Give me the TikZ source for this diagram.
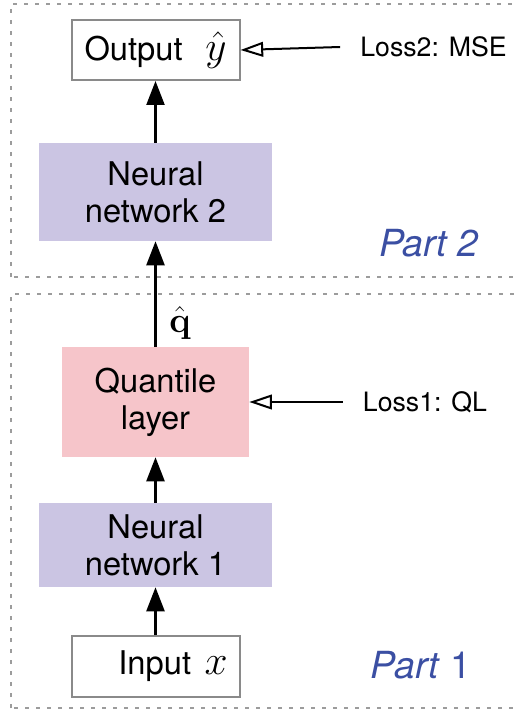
\RequirePackage{fix-cm}
\documentclass[tikz,border=0pt]{standalone}
\usepackage[no-math]{fontspec}
\setmainfont{TeX Gyre Heros}
\usetikzlibrary{arrows.meta}
\definecolor{lav}{HTML}{CBC5E3}
\definecolor{pinkq}{HTML}{F6C5CA}
\definecolor{partblue}{HTML}{3B4FA3}
\definecolor{bordergray}{HTML}{8A8A8A}
\definecolor{dashgray}{HTML}{9C9C9C}
\newcommand{\bigmath}[1]{{\fontsize{31}{31}\selectfont$#1$}}
\begin{document}
\begin{tikzpicture}[x=0.75pt,y=-0.75pt,
  mainfont/.style={font=\fontsize{24.5}{27.75}\selectfont},
  whitebox/.style={draw=bordergray,line width=1.5pt,fill=white,mainfont,align=center},
  nnbox/.style={fill=lav,mainfont,align=center,minimum width=174.75pt},
  qbox/.style={fill=pinkq,mainfont,align=center},
  losstext/.style={font=\fontsize{20}{23}\selectfont,inner xsep=15pt,anchor=center},
  parttext/.style={font=\fontsize{28}{32}\selectfont,text=partblue},
  arr/.style={line width=1.75pt,-{Triangle[width=13.5pt,length=18pt]}},
  oarr/.style={line width=1.5pt,-{Triangle[open,width=11pt,length=17pt,line width=1.5pt]}},
  border/.style={draw=dashgray,line width=1.5pt,dash pattern=on 3pt off 5.25pt}
]
\useasboundingbox (0,0) rectangle (518,713);
% dashed part borders
\draw[border] (11,277) -- (11,4) -- (518,4);
\draw[border] (14,277) -- (518,277);
\draw[border] (11,708) -- (11,294) -- (518,294);
\draw[border] (14,708) -- (518,708);
% nodes
\node[whitebox,minimum width=126pt,minimum height=45pt,inner sep=0pt] (out) at (155.5,50) {Output\hspace{17pt}\bigmath{\hat{y}}};
\node[nnbox,minimum height=73.5pt] (nn2) at (155.5,192) {Neural\\network 2};
\node[qbox,minimum width=140.25pt,minimum height=82.5pt] (ql) at (155.5,402) {Quantile\\layer};
\node[nnbox,minimum height=63pt] (nn1) at (155.5,545) {Neural\\network 1};
\node[whitebox,minimum width=126pt,minimum height=45.75pt,inner sep=0pt,text width=108pt,align=right] (in) at (155.5,666.5) {Input\hspace{10pt}\bigmath{x}};
\node[inner sep=0pt] (qhat) at (180,323) {\fontsize{27}{27}\selectfont$\hat{\mathbf{q}}$};
\node[losstext] (l2) at (433.5,47) {Loss2: MSE};
\node[losstext] (l1) at (425,402) {Loss1: QL};
\node[parttext] (p2) at (429,243) {\textit{Part 2}};
\node[parttext] (p1) at (421,665) {\textit{Part} 1};
% connectors
\draw[arr] (in.north) -- (nn1.south);
\draw[arr] (nn1.north) -- (ql.south);
\draw[arr] (ql.north) -- (nn2.south);
\draw[arr] (nn2.north) -- (out.south);
\draw[oarr] (l2.west) -- (out.east);
\draw[oarr] (l1.west) -- (ql.east);
\end{tikzpicture}
\end{document}
